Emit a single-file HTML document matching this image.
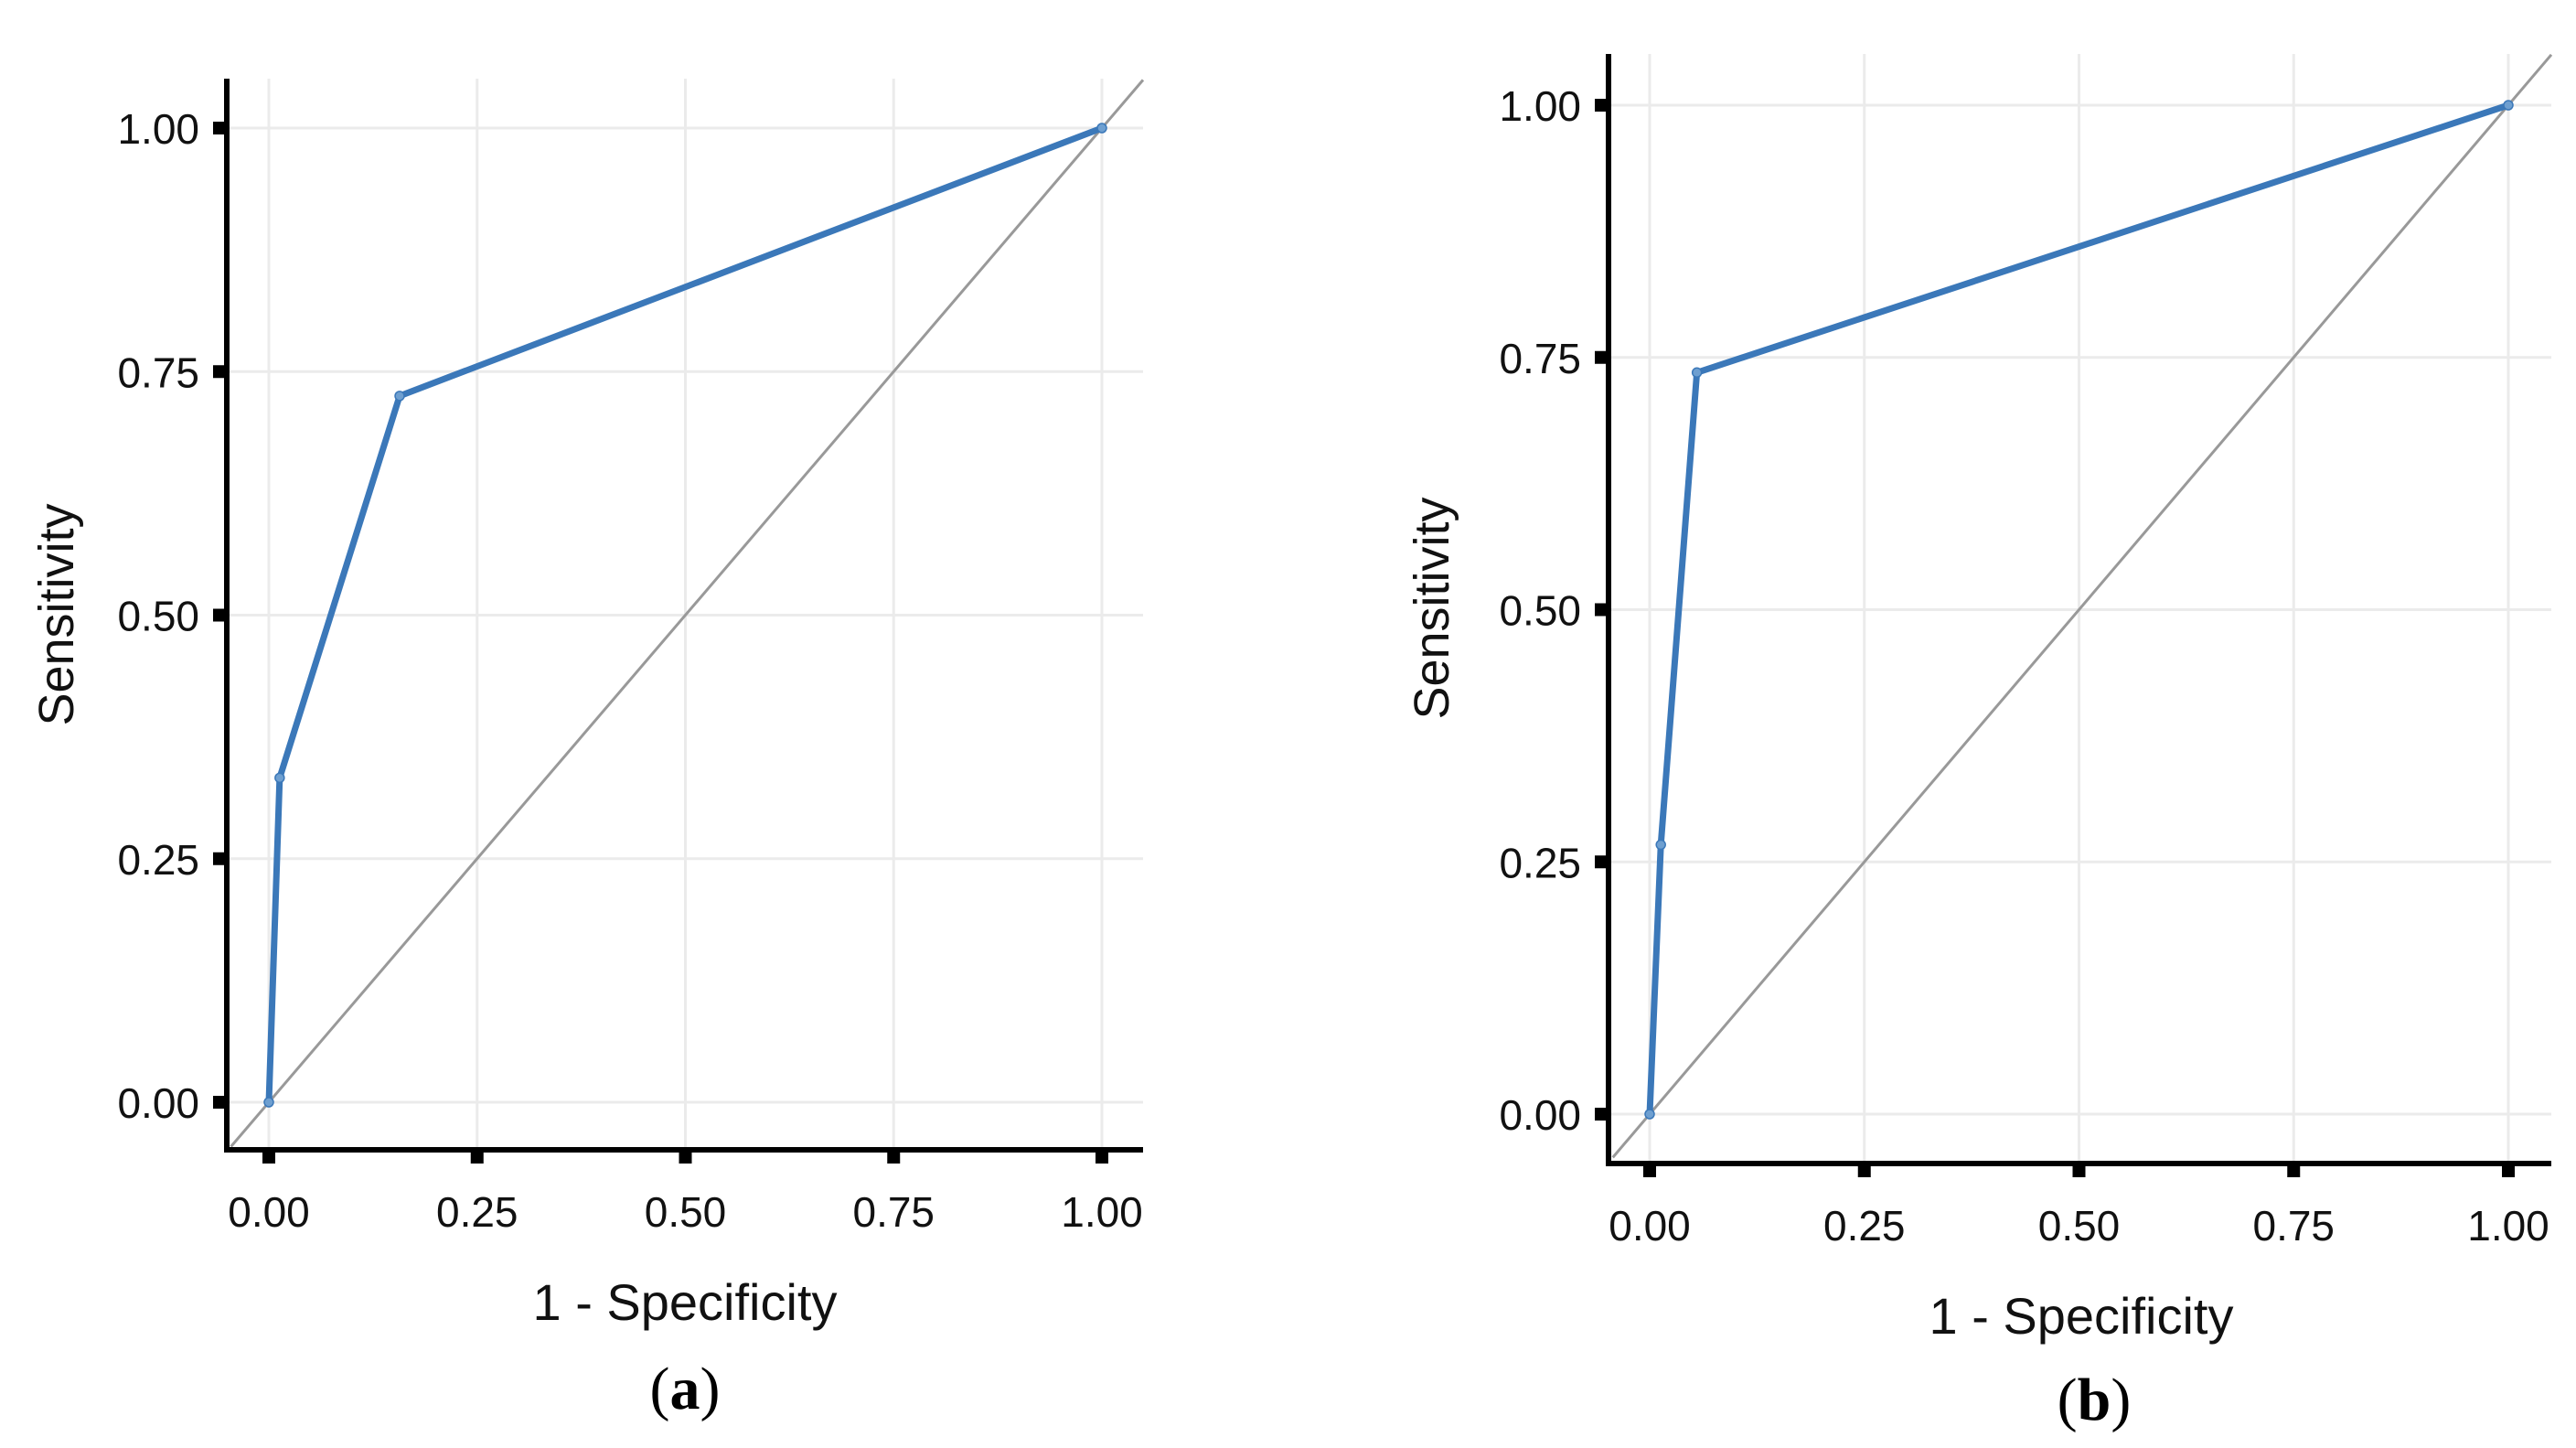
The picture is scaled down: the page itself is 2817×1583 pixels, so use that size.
<!DOCTYPE html>
<html><head><meta charset="utf-8"><style>
html,body{margin:0;padding:0;background:#fff;}
svg{display:block;}
</style></head><body>
<svg id="fig" width="2817" height="1583" viewBox="0 0 2817 1583" xmlns="http://www.w3.org/2000/svg"></svg>
<script>
const tickValues = [0, 0.25, 0.5, 0.75, 1];
const tickLabels = ["0.00", "0.25", "0.50", "0.75", "1.00"];
const fprA = [0, 0.013, 0.157, 1];
const tprA = [0, 0.333, 0.725, 1];
const fprB = [0, 0.013, 0.055, 1];
const tprB = [0, 0.267, 0.735, 1];

const NS = "http://www.w3.org/2000/svg";
const svg = document.getElementById('fig');
function mk(tag, attrs, parent, text) {
  const e = document.createElementNS(NS, tag);
  for (const k in attrs) e.setAttribute(k, attrs[k]);
  if (text !== undefined) e.textContent = text;
  (parent || svg).appendChild(e);
  return e;
}

function panel(cfg, fpr, tpr) {
  const g = mk('g', {});
  
  
  const sx = v => cfg.x0 + v * (cfg.x1 - cfg.x0);
  const sy = v => cfg.y0 - v * (cfg.y0 - cfg.y1);
  const left = cfg.axisX, bottom = cfg.axisY, top = cfg.top, right = cfg.right;
  tickValues.forEach(v => {
    const gl = mk('line', {x1: sx(v), x2: sx(v), y1: top, y2: bottom, stroke: '#ebebeb', 'stroke-width': 3}, g);
    
    
    const hl = mk('line', {x1: left, x2: right, y1: sy(v), y2: sy(v), stroke: '#ebebeb', 'stroke-width': 3}, g);
    
    
  });
  const dLo = (left - cfg.x0) / (cfg.x1 - cfg.x0) + 0.005;
  const dHi = (right - cfg.x0) / (cfg.x1 - cfg.x0);
  const dl = mk('line', {x1: sx(dLo), y1: sy(dLo), x2: sx(dHi), y2: sy(dHi), stroke: '#999', 'stroke-width': 3}, g);
  
  
  const pts = fpr.map((v, i) => sx(v) + ',' + sy(tpr[i])).join(' ');
  const pl = mk('polyline', {points: pts, fill: 'none', stroke: '#3b78b9', 'stroke-width': 7, 'stroke-linejoin': 'round'}, g);
  
  
  fpr.forEach((v, i) => {
    const c = mk('circle', {cx: sx(v), cy: sy(tpr[i]), r: 5, fill: '#6e9fd0', stroke: '#3b78b9', 'stroke-width': 1.5}, g);
    
    
  });
  const ya = mk('line', {x1: left, x2: left, y1: top, y2: bottom + 3, stroke: '#000', 'stroke-width': 6}, g);
  
  
  const xa = mk('line', {x1: left - 3, x2: right, y1: bottom, y2: bottom, stroke: '#000', 'stroke-width': 6}, g);
  
  
  tickValues.forEach((v, i) => {
    const xt = mk('line', {x1: sx(v), x2: sx(v), y1: bottom, y2: bottom + 15, stroke: '#000', 'stroke-width': 14}, g);
    
    
    const yt = mk('line', {x1: left - 15, x2: left, y1: sy(v), y2: sy(v), stroke: '#000', 'stroke-width': 14}, g);
    
    
    const xl = mk('text', {x: sx(v), y: bottom + 84, 'text-anchor': 'middle', 'font-family': 'Liberation Sans, sans-serif', 'font-size': 46, fill: '#111'}, g, tickLabels[i]);
    
    
    const yl = mk('text', {x: left - 30, y: sy(v) + 17, 'text-anchor': 'end', 'font-family': 'Liberation Sans, sans-serif', 'font-size': 46, fill: '#111'}, g, tickLabels[i]);
    
    
  });
  const xt = mk('text', {x: cfg.xTitleX, y: cfg.xTitleY, 'text-anchor': 'middle', 'font-family': 'Liberation Sans, sans-serif', 'font-size': 56, fill: '#111'}, g, '1 - Specificity');
  
  
  const yt = mk('text', {x: 0, y: 0, transform: 'translate(' + cfg.yTitleX + ',' + cfg.yTitleY + ') rotate(-90)', 'text-anchor': 'middle', 'font-family': 'Liberation Sans, sans-serif', 'font-size': 54, fill: '#111'}, g, 'Sensitivity');
  
  
  const cap = mk('text', {x: cfg.capX, y: cfg.capY, 'text-anchor': 'middle', 'font-family': 'Liberation Serif, serif', 'font-size': 66, fill: '#000'}, g);
  
  
  mk('tspan', {}, cap, '(');
  mk('tspan', {'font-weight': 'bold'}, cap, cfg.letter);
  mk('tspan', {}, cap, ')');
}

panel({name: 'panel-a', x0: 294, x1: 1205, y0: 1205, y1: 140, axisX: 248, axisY: 1257, top: 86, right: 1250,
  xTitleX: 749, xTitleY: 1443, yTitleX: 80, yTitleY: 672, capX: 749, capY: 1540, letter: 'a'}, fprA, tprA);
panel({name: 'panel-b', x0: 1804, x1: 2743, y0: 1218, y1: 115, axisX: 1759, axisY: 1272, top: 59, right: 2790,
  xTitleX: 2276, xTitleY: 1458, yTitleX: 1584, yTitleY: 665, capX: 2290, capY: 1552, letter: 'b'}, fprB, tprB);
</script>
</body></html>
